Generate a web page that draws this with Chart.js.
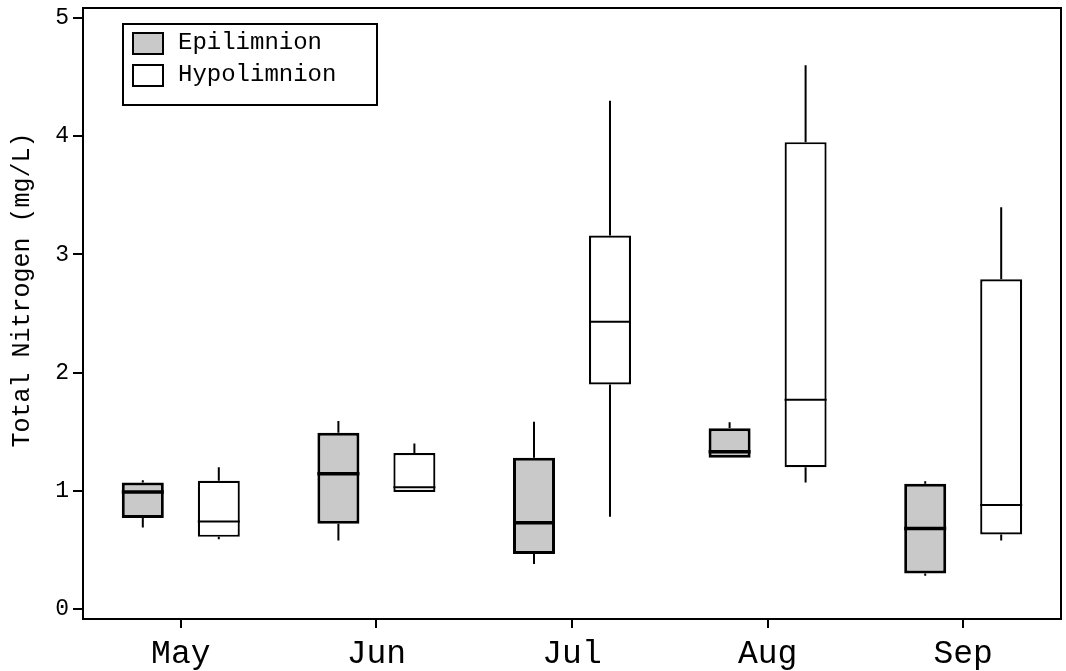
<!DOCTYPE html>
<html>
<head>
<meta charset="utf-8">
<script src="https://cdn.jsdelivr.net/npm/chart.js@4/dist/chart.umd.min.js"></script>
<style>
  html, body { margin: 0; padding: 0; background: #fff; }
  #wrap { width: 1066px; height: 671px; }
</style>
</head>
<body>
<div id="wrap"><canvas id="chart"></canvas></div>
<script>
// months on the x axis
const months = ['May', 'Jun', 'Jul', 'Aug', 'Sep'];
const yTicks = [0, 1, 2, 3, 4, 5];
const yTitle = 'Total Nitrogen (mg/L)';

// Epilimnion box plot values (mg/L)
const epiMin = [0.69, 0.58, 0.38, 1.28, 0.28];
const epiQ1  = [0.77, 0.72, 0.465, 1.28, 0.30];
const epiMed = [0.99, 1.145, 0.73, 1.33, 0.68];
const epiQ3  = [1.07, 1.49, 1.28, 1.53, 1.06];
const epiMax = [1.09, 1.59, 1.585, 1.58, 1.08];

// Hypolimnion box plot values (mg/L)
const hypoMin = [0.59, 0.99, 0.78, 1.07, 0.58];
const hypoQ1  = [0.61, 0.99, 1.90, 1.20, 0.63];
const hypoMed = [0.74, 1.03, 2.43, 1.77, 0.88];
const hypoQ3  = [1.085, 1.32, 3.16, 3.95, 2.79];
const hypoMax = [1.20, 1.40, 4.30, 4.60, 3.40];

const FONT = "'Liberation Mono', 'Courier New', monospace";

// boxes are floating bars from Q1 to Q3
const boxes = (q1, q3) => q1.map((v, i) => [v, q3[i]]);

// whiskers + medians drawn on top of the bars
const boxPlotExtras = {
    id: 'boxPlotExtras',
    afterDatasetsDraw(chart) {
        const ctx = chart.ctx;
        const y = chart.scales.y;
        chart.data.datasets.forEach((ds, di) => {
            const meta = chart.getDatasetMeta(di);
            meta.data.forEach((bar, i) => {
                const half = bar.width / 2;
                ctx.save();
                ctx.strokeStyle = '#000';
                // whiskers
                ctx.lineWidth = 2;
                ctx.beginPath();
                ctx.moveTo(bar.x, y.getPixelForValue(ds.q3[i]));
                ctx.lineTo(bar.x, y.getPixelForValue(ds.max[i]));
                ctx.moveTo(bar.x, y.getPixelForValue(ds.q1[i]));
                ctx.lineTo(bar.x, y.getPixelForValue(ds.min[i]));
                ctx.stroke();
                // median
                ctx.lineWidth = ds.medianWidth;
                const my = y.getPixelForValue(ds.med[i]);
                ctx.beginPath();
                ctx.moveTo(bar.x - half, my);
                ctx.lineTo(bar.x + half, my);
                ctx.stroke();
                ctx.restore();
            });
        });
    }
};

// frame around the plot area, boxed legend top-left, y title
const frameAndLegend = {
    id: 'frameAndLegend',
    afterDraw(chart) {
        const ctx = chart.ctx;
        const a = chart.chartArea;
        ctx.save();
        ctx.strokeStyle = '#000';
        ctx.lineWidth = 2;
        ctx.strokeRect(a.left, a.top, a.right - a.left, a.bottom - a.top);

        const lx = a.left + 40, ly = a.top + 16, lw = 254, lh = 81;
        ctx.strokeRect(lx, ly, lw, lh);
        ctx.font = '24px ' + FONT;
        ctx.textBaseline = 'middle';
        chart.data.datasets.forEach((ds, i) => {
            const rowY = ly + 9 + i * 32;
            ctx.fillStyle = ds.backgroundColor;
            ctx.fillRect(lx + 10, rowY, 30, 21);
            ctx.lineWidth = 2;
            ctx.strokeRect(lx + 10, rowY, 30, 21);
            ctx.fillStyle = '#000';
            ctx.fillText(ds.label, lx + 55, rowY + 10);
        });

        // y axis title (sits a bit above the middle in the original)
        ctx.translate(22, a.top + 282);
        ctx.rotate(-Math.PI / 2);
        ctx.font = '25px ' + FONT;
        ctx.textAlign = 'center';
        ctx.textBaseline = 'middle';
        ctx.fillStyle = '#000';
        ctx.fillText(yTitle, 0, 0);
        ctx.restore();
    }
};

new Chart(document.getElementById('chart'), {
    type: 'bar',
    data: {
        labels: months,
        datasets: [
            {
                label: 'Epilimnion',
                data: boxes(epiQ1, epiQ3),
                min: epiMin, q1: epiQ1, med: epiMed, q3: epiQ3, max: epiMax,
                medianWidth: 3.5,
                backgroundColor: '#c9c9c9',
                borderColor: '#000',
                borderWidth: 3,
                borderSkipped: false
            },
            {
                label: 'Hypolimnion',
                data: boxes(hypoQ1, hypoQ3),
                min: hypoMin, q1: hypoQ1, med: hypoMed, q3: hypoQ3, max: hypoMax,
                medianWidth: 2,
                backgroundColor: '#ffffff',
                borderColor: '#000',
                borderWidth: 2.2,
                borderSkipped: false
            }
        ]
    },
    options: {
        responsive: true,
        maintainAspectRatio: false,
        animation: false,
        categoryPercentage: 0.777,
        barPercentage: 0.553,
        layout: { padding: { top: 0, right: 5, left: 0, bottom: 0 } },
        plugins: {
            legend: { display: false },
            tooltip: { enabled: false }
        },
        scales: {
            x: {
                grid: {
                    offset: false,
                    drawOnChartArea: false,
                    drawTicks: true,
                    tickLength: 9,
                    color: '#000',
                    lineWidth: 2
                },
                border: { display: true, color: '#000', width: 2 },
                ticks: {
                    color: '#000',
                    font: { family: FONT, size: 33 },
                    padding: 6,
                    maxRotation: 0
                },
                afterFit(scale) { scale.height = 52; }
            },
            y: {
                min: -0.085,
                max: 5.085,
                afterBuildTicks(scale) {
                    scale.ticks = yTicks.map(v => ({ value: v }));
                },
                grid: {
                    drawOnChartArea: false,
                    drawTicks: true,
                    tickLength: 10,
                    color: '#000',
                    lineWidth: 2
                },
                border: { display: true, color: '#000', width: 2 },
                ticks: {
                    color: '#000',
                    font: { family: FONT, size: 23 },
                    padding: 4
                },
                afterFit(scale) {
                    scale.width = 83;
                    scale.paddingTop = 8;   // plot frame starts 8px from the top
                }
            }
        }
    },
    plugins: [boxPlotExtras, frameAndLegend]
});
</script>
</body>
</html>
